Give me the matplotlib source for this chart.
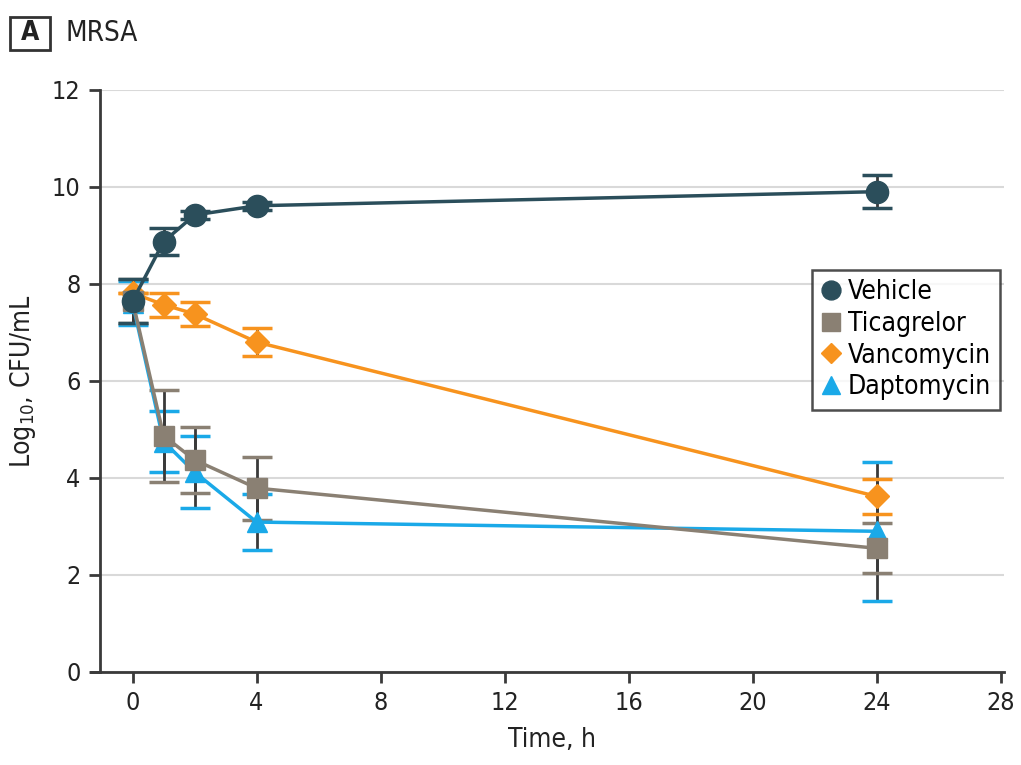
import numpy as np
import matplotlib.pyplot as plt
from matplotlib.patches import Rectangle

plt.rcParams['font.family'] = ['DejaVu Sans']
plt.rcParams['font.stretch'] = 'condensed'

# DATA
time_h = [0, 1, 2, 4, 24]

vehicle = [7.65, 8.87, 9.42, 9.61, 9.90]
vehicle_err = [0.45, 0.28, 0.08, 0.08, 0.34]

ticagrelor = [7.65, 4.87, 4.37, 3.79, 2.55]
ticagrelor_err = [0.45, 0.95, 0.68, 0.65, 0.52]

vancomycin = [7.81, 7.57, 7.38, 6.80, 3.62]
vancomycin_err = [0.0, 0.25, 0.24, 0.29, 0.36]

daptomycin = [7.60, 4.75, 4.12, 3.09, 2.90]
daptomycin_err = [0.45, 0.63, 0.75, 0.58, 1.43]

series = [
    ("Vehicle", vehicle, vehicle_err, "#2b4e5b", "o", 16),
    ("Ticagrelor", ticagrelor, ticagrelor_err, "#8a8073", "s", 15),
    ("Vancomycin", vancomycin, vancomycin_err, "#f7931e", "D", 12),
    ("Daptomycin", daptomycin, daptomycin_err, "#1aa9e8", "^", 15),
]

fig = plt.figure(figsize=(10.21, 7.65), dpi=100)
ax = fig.add_axes([0.098, 0.1216, 0.885, 0.761])

# draw back-to-front so vehicle sits on top at t=0
for name, vals, err, col, mk, ms in reversed(series):
    line, caps, bars = ax.errorbar(
        time_h, vals, yerr=err,
        color=col, marker=mk, markersize=ms, linewidth=2.5,
        ecolor="#3a3a3a", elinewidth=2, capsize=11, capthick=2.5,
        label=name, zorder=3
    )
    for c in caps:
        c.set_markeredgecolor(col)
        c.set_color(col)

ax.set_xlim(-1.05, 28.1)
ax.set_ylim(0, 12)
ax.set_xticks(np.arange(0, 29, 4))
ax.set_yticks(np.arange(0, 13, 2))

ax.grid(axis="y", color="#d9d9d9", linewidth=1.5, zorder=0)
ax.set_axisbelow(True)

for s in ["top", "right"]:
    ax.spines[s].set_visible(False)
for s in ["left", "bottom"]:
    ax.spines[s].set_color("#3a3a3a")
    ax.spines[s].set_linewidth(2)
ax.spines["left"].set_bounds(0, 12)
ax.spines["bottom"].set_bounds(-1.35, 28.1)

ax.tick_params(axis="both", colors="#3a3a3a", width=2, length=8,
               labelsize=18, labelcolor="#222222", pad=6)

ax.set_xlabel("Time, h", fontsize=19, color="#222222", labelpad=8)
ax.set_ylabel("Log$_{10}$, CFU/mL", fontsize=19, color="#222222", labelpad=10)

handles, labels = ax.get_legend_handles_labels()
order = [labels.index(s[0]) for s in series]
leg = ax.legend(
    [handles[i][0] for i in order], [labels[i] for i in order],
    loc="upper left", bbox_to_anchor=(0.788, 0.691), borderaxespad=0,
    fontsize=19, frameon=True, fancybox=False,
    edgecolor="#222222", handlelength=0.7, handletextpad=0.3,
    borderpad=0.35, labelspacing=0.22, markerscale=0.85
)
leg.get_frame().set_linewidth(1.8)
for h in leg.legend_handles:
    h.set_linestyle("none")

# panel label
fig.patches.append(Rectangle((10 / 1021, 1 - 50 / 765), 40 / 1021, 33 / 765,
                             transform=fig.transFigure, fill=False,
                             edgecolor="#333333", linewidth=2))
fig.text(30 / 1021, 1 - 33 / 765, "A", ha="center", va="center",
         fontsize=19, fontweight="bold", color="#222222")
fig.text(65 / 1021, 1 - 33 / 765, "MRSA", ha="left", va="center",
         fontsize=20, color="#222222")

fig.savefig("out.png", dpi=100)
